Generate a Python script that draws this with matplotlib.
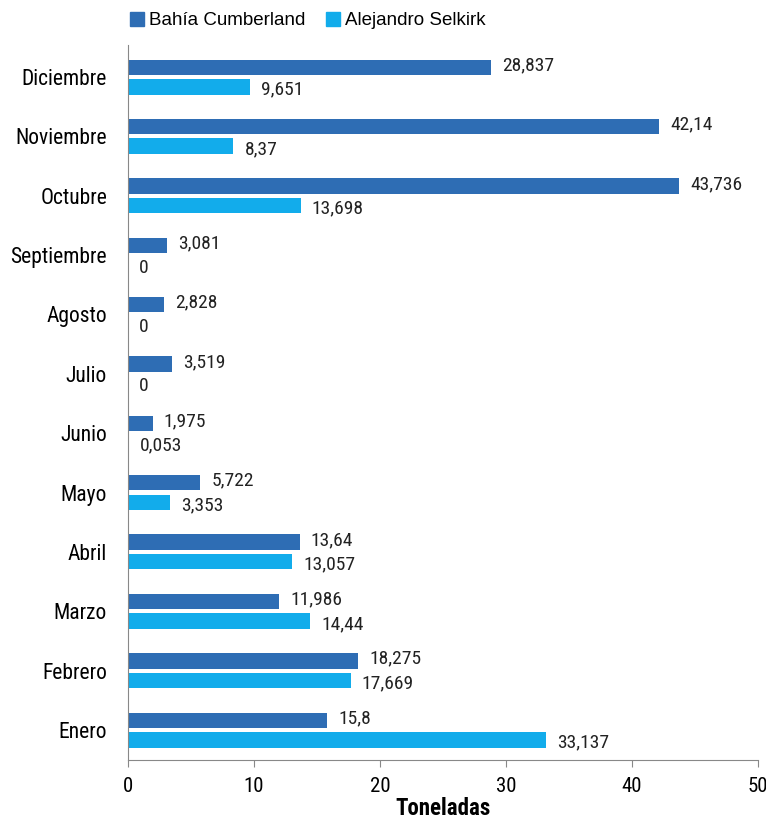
import matplotlib
matplotlib.use("Agg")
import matplotlib.pyplot as plt
from matplotlib.patches import Patch
import numpy as np

months = ["Enero", "Febrero", "Marzo", "Abril", "Mayo", "Junio", "Julio",
          "Agosto", "Septiembre", "Octubre", "Noviembre", "Diciembre"]
cumberland = [15.8, 18.275, 11.986, 13.64, 5.722, 1.975, 3.519,
              2.828, 3.081, 43.736, 42.14, 28.837]
selkirk = [33.137, 17.669, 14.44, 13.057, 3.353, 0.053, 0,
           0, 0, 13.698, 8.37, 9.651]
cumberland_lbl = ["15,8", "18,275", "11,986", "13,64", "5,722", "1,975", "3,519",
                  "2,828", "3,081", "43,736", "42,14", "28,837"]
selkirk_lbl = ["33,137", "17,669", "14,44", "13,057", "3,353", "0,053", "0",
               "0", "0", "13,698", "8,37", "9,651"]

c_dark = "#2E6DB4"
c_light = "#12ACEB"
narrow = ["Roboto Condensed", "Liberation Sans", "DejaVu Sans"]
plain = ["Liberation Sans", "DejaVu Sans"]
plt.rcParams["font.family"] = narrow

fig = plt.figure(figsize=(7.66, 8.21), dpi=100)
ax = fig.add_axes([0.167, 0.0743, 0.8226, 0.8709])

y = np.arange(len(months))
h = 0.26
off = 0.165
ax.barh(y + off, cumberland, height=h, color=c_dark)
ax.barh(y - off, selkirk, height=h, color=c_light)

for yi, v, t in zip(y, cumberland, cumberland_lbl):
    ax.annotate(t, (v, yi + off), xytext=(8, 1.5), textcoords="offset points",
                va="center", ha="left", fontsize=14, color="#222222")
for yi, v, t in zip(y, selkirk, selkirk_lbl):
    ax.annotate(t, (v, yi - off), xytext=(8, -2), textcoords="offset points",
                va="center", ha="left", fontsize=14, color="#222222")

ax.set_xlim(0, 50)
ax.set_ylim(-0.505, 11.54)
ax.set_xticks([0, 10, 20, 30, 40, 50])
ax.set_yticks(y)
ax.set_yticklabels(months)
ax.tick_params(axis="y", length=0, pad=15, labelsize=15.5)
ax.tick_params(axis="x", length=5, direction="out", labelsize=15, pad=7,
               color="#888888")
for s in ["top", "right"]:
    ax.spines[s].set_visible(False)
for s in ["left", "bottom"]:
    ax.spines[s].set_color("#888888")
ax.set_xlabel("Toneladas", fontsize=16.5, fontweight="bold", labelpad=1)

handles = [Patch(color=c_dark, label="Bahía Cumberland"),
           Patch(color=c_light, label="Alejandro Selkirk")]
fig.legend(handles=handles, loc="upper left", bbox_to_anchor=(0.148, 1.006),
           ncol=2, frameon=False, prop={"family": plain, "size": 13.5},
           handlelength=0.75, handleheight=0.75, handletextpad=0.25,
           columnspacing=1.1)

fig.savefig("out.png", dpi=100)
